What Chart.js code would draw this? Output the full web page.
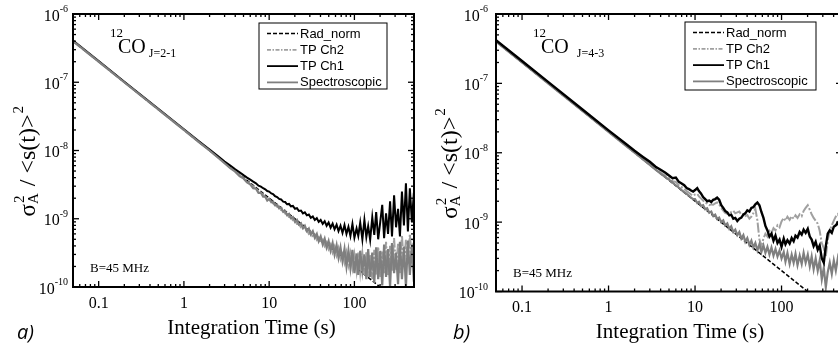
<!DOCTYPE html>
<html lang="en">
<head>
<meta charset="UTF-8">
<title>Allan variance - 12CO</title>
<script src="https://cdn.jsdelivr.net/npm/chart.js"></script>
<style>
    html, body { margin: 0; padding: 0; background: #fff; }
    body { width: 838px; height: 348px; overflow: hidden; position: relative; }
    canvas { position: absolute; top: 0; }
    #chartA { left: 0; }
    #chartB { left: 419px; }
</style>
</head>
<body>
<canvas id="chartA" width="419" height="348"></canvas>
<canvas id="chartB" width="430" height="348"></canvas>
<script>
// integration time (s), shared by the measured curves
const times = [
    0.05, 0.1, 0.2, 0.5, 1, 1.5, 2, 2.5, 3, 3.5,
    4, 4.5, 5, 5.5, 6, 6.5, 7, 7.5, 8, 8.5,
    9, 9.5,
    10, 10.6, 11.1, 11.7, 12.4, 13.1, 13.8, 14.6, 15.4, 16.2,
    17.1, 18, 19, 20.1, 21.2, 22.3, 23.6, 24.9, 26.2, 27.7,
    29.2, 30.8, 32.5, 34.3, 36.2, 38.1, 40.2, 42.5, 44.8, 47.2,
    49.8, 52.6, 55.5, 58.5, 61.8, 65.1, 68.7, 72.5, 76.5, 80.7,
    85.1, 89.8, 94.8, 100, 106, 111, 117, 124, 131, 138,
    145, 153, 162, 171, 180, 190, 201, 212, 223, 235,
    248, 262, 276, 292, 308, 325, 342, 361, 381, 402,
    424, 447, 472, 498
];

// radiometer curve (same for both lines)
const radTimes = [0.05, 0.1, 1, 10, 100, 1000];
const radNorm = [4e-7, 2e-7, 2e-8, 2e-9, 2e-10, 2e-11];

// a) 12CO J=2-1
const co21Ch1 = [
    4.1e-7, 2.05e-7, 1.02e-7, 4.1e-8, 2.05e-8, 1.37e-8, 1.03e-8, 8.3e-9, 6.9e-9, 6.0e-9,
    5.3e-9, 4.8e-9, 4.35e-9, 4.0e-9, 3.75e-9, 3.5e-9, 3.3e-9, 3.05e-9, 2.95e-9, 2.8e-9,
    2.7e-9, 2.55e-9,
    25e-10, 23.5e-10, 23e-10, 21.5e-10, 20.8e-10, 19.5e-10, 19.2e-10, 17.8e-10, 17.6e-10, 16.3e-10,
    16.5e-10, 15.2e-10, 15.4e-10, 14e-10, 14.3e-10, 13e-10, 13.2e-10, 12e-10, 12.4e-10, 11.2e-10,
    11.5e-10, 10.3e-10, 10.8e-10, 9.6e-10, 10.2e-10, 9.0e-10, 9.6e-10, 8.4e-10, 9.2e-10, 7.9e-10,
    8.8e-10, 7.4e-10, 8.5e-10, 7.0e-10, 8.2e-10, 6.6e-10, 7.9e-10, 6.2e-10, 8.1e-10, 6.0e-10,
    7.6e-10, 5.6e-10, 8.4e-10, 5.3e-10, 7.2e-10, 5.6e-10, 8.8e-10, 5.0e-10, 9.6e-10, 5.4e-10,
    7.8e-10, 4.9e-10, 10.5e-10, 5.8e-10, 12.5e-10, 5.0e-10, 9.0e-10, 16e-10, 5.2e-10, 12e-10,
    6.0e-10, 18e-10, 5.5e-10, 22e-10, 7.5e-10, 14e-10, 5.5e-10, 25e-10, 8.0e-10, 33e-10,
    6.5e-10, 28e-10, 9e-10, 24e-10
];
const co21Ch2 = [
    4.0e-7, 2.0e-7, 1.0e-7, 4.0e-8, 2.0e-8, 1.33e-8, 1.0e-8, 8.0e-9, 6.6e-9, 5.6e-9,
    4.95e-9, 4.35e-9, 3.9e-9, 3.55e-9, 3.2e-9, 3.0e-9, 2.75e-9, 2.55e-9, 2.4e-9, 2.25e-9,
    2.1e-9, 2.0e-9,
    19e-10, 18.2e-10, 16.8e-10, 16.4e-10, 15.0e-10, 14.8e-10, 13.4e-10, 13.2e-10, 11.9e-10, 11.8e-10,
    10.6e-10, 10.5e-10, 9.5e-10, 9.4e-10, 8.4e-10, 8.4e-10, 7.5e-10, 7.6e-10, 6.7e-10, 6.9e-10,
    6.0e-10, 6.3e-10, 5.4e-10, 5.8e-10, 4.9e-10, 5.3e-10, 4.4e-10, 4.9e-10, 4.0e-10, 4.5e-10,
    3.6e-10, 4.2e-10, 3.2e-10, 3.9e-10, 2.9e-10, 3.7e-10, 2.6e-10, 3.4e-10, 2.3e-10, 3.2e-10,
    2.1e-10, 3.1e-10, 1.9e-10, 3.0e-10, 1.7e-10, 3.2e-10, 1.6e-10, 3.1e-10, 1.5e-10, 3.3e-10,
    1.4e-10, 3.0e-10, 1.3e-10, 3.5e-10, 1.5e-10, 3.9e-10, 1.4e-10, 3.3e-10, 1.6e-10, 4.6e-10,
    1.5e-10, 4.0e-10, 1.7e-10, 5.2e-10, 1.8e-10, 4.4e-10, 1.6e-10, 5.8e-10, 2.0e-10, 4.9e-10,
    2.2e-10, 6.0e-10, 2.5e-10, 5.4e-10
];
const co21Spec = [
    4.0e-7, 2.0e-7, 1.0e-7, 4.0e-8, 2.0e-8, 1.33e-8, 1.0e-8, 7.9e-9, 6.5e-9, 5.5e-9,
    4.9e-9, 4.2e-9, 3.9e-9, 3.4e-9, 3.2e-9, 2.8e-9, 2.75e-9, 2.4e-9, 2.4e-9, 2.1e-9,
    2.1e-9, 1.85e-9,
    19.5e-10, 17.5e-10, 17.8e-10, 15.8e-10, 16.0e-10, 14.2e-10, 14.5e-10, 12.6e-10, 13.0e-10, 11.3e-10,
    11.8e-10, 10.2e-10, 10.6e-10, 9.0e-10, 9.6e-10, 8.2e-10, 8.6e-10, 7.3e-10, 7.9e-10, 6.6e-10,
    7.2e-10, 5.9e-10, 6.6e-10, 5.3e-10, 6.0e-10, 4.7e-10, 5.5e-10, 4.2e-10, 5.1e-10, 3.8e-10,
    4.7e-10, 3.4e-10, 4.4e-10, 3.0e-10, 4.1e-10, 2.7e-10, 3.8e-10, 2.4e-10, 3.6e-10, 2.0e-10,
    3.4e-10, 1.9e-10, 3.5e-10, 1.6e-10, 3.1e-10, 1.5e-10, 3.4e-10, 1.7e-10, 3.0e-10, 1.3e-10,
    3.6e-10, 1.4e-10, 3.2e-10, 1.15e-10, 3.8e-10, 1.3e-10, 3.4e-10, 1.05e-10, 4.2e-10, 1.4e-10,
    3.6e-10, 1.0e-10, 4.4e-10, 1.6e-10, 3.2e-10, 1.1e-10, 4.6e-10, 1.3e-10, 3.9e-10, 1.0e-10,
    4.8e-10, 1.5e-10, 4.2e-10, 1.2e-10
];

// b) 12CO J=4-3
const co43Ch1 = [
    4.2e-7, 2.1e-7, 1.05e-7, 4.2e-8, 2.1e-8, 1.42e-8, 1.07e-8, 8.7e-9, 7.4e-9, 6.3e-9,
    5.7e-9, 5.2e-9, 4.7e-9, 4.3e-9, 4.4e-9, 3.8e-9, 3.6e-9, 3.4e-9, 3.1e-9, 3.0e-9,
    2.85e-9, 2.75e-9,
    29e-10, 31e-10, 28e-10, 26e-10, 23e-10, 21.5e-10, 20e-10, 20.5e-10, 19.5e-10, 21e-10,
    21.5e-10, 22.5e-10, 21e-10, 17.5e-10, 16e-10, 14.5e-10, 13.8e-10, 12.5e-10, 12.8e-10, 11.2e-10,
    11.5e-10, 10.4e-10, 11.2e-10, 11.6e-10, 12.8e-10, 13.4e-10, 14.8e-10, 14.2e-10, 16.0e-10, 16.4e-10,
    18.0e-10, 19.2e-10, 17.5e-10, 14.0e-10, 11.5e-10, 8.8e-10, 7.6e-10, 6.2e-10, 6.8e-10, 5.4e-10,
    6.4e-10, 5.0e-10, 5.6e-10, 4.4e-10, 5.8e-10, 4.8e-10, 5.5e-10, 4.9e-10, 5.9e-10, 5.3e-10,
    6.4e-10, 6.0e-10, 7.2e-10, 6.6e-10, 7.8e-10, 7.0e-10, 8.0e-10, 6.2e-10, 5.6e-10, 4.5e-10,
    5.2e-10, 4.0e-10, 4.6e-10, 3.0e-10, 2.6e-10, 4.5e-10, 6.8e-10, 7.6e-10, 7.0e-10, 8.6e-10,
    9.0e-10, 9.8e-10, 8.5e-10, 10e-10
];
const co43Ch2 = [
    4.1e-7, 2.05e-7, 1.02e-7, 4.1e-8, 2.05e-8, 1.37e-8, 1.03e-8, 8.3e-9, 6.9e-9, 5.9e-9,
    5.2e-9, 4.7e-9, 4.3e-9, 3.9e-9, 3.8e-9, 3.4e-9, 3.2e-9, 3.0e-9, 2.8e-9, 2.65e-9,
    2.5e-9, 2.4e-9,
    25e-10, 25.5e-10, 23.5e-10, 22e-10, 20.5e-10, 19e-10, 18.5e-10, 17.6e-10, 18e-10, 17.8e-10,
    18.6e-10, 19.2e-10, 18e-10, 16e-10, 14.6e-10, 13.6e-10, 13.2e-10, 13.0e-10, 14.0e-10, 14.6e-10,
    13.4e-10, 13.8e-10, 14.2e-10, 12.8e-10, 13.0e-10, 12.2e-10, 12.6e-10, 11.2e-10, 12.0e-10, 13.4e-10,
    15.5e-10, 10.5e-10, 5.6e-10, 4.6e-10, 5.8e-10, 6.8e-10, 6.2e-10, 7.5e-10, 7.0e-10, 8.2e-10,
    7.6e-10, 9.0e-10, 8.4e-10, 10.2e-10, 11.5e-10, 10.5e-10, 12.0e-10, 10.8e-10, 12.2e-10, 11.2e-10,
    12.5e-10, 11.5e-10, 13.0e-10, 12.2e-10, 14.5e-10, 16.0e-10, 17.5e-10, 15.0e-10, 13.0e-10, 11.5e-10,
    10.5e-10, 9.5e-10, 7.5e-10, 5.0e-10, 4.2e-10, 3.2e-10, 5.5e-10, 7.5e-10, 9.0e-10, 10.5e-10,
    12.0e-10, 13.0e-10, 11.5e-10, 13.0e-10
];
const co43Spec = [
    4.0e-7, 2.0e-7, 1.0e-7, 4.0e-8, 2.0e-8, 1.33e-8, 1.0e-8, 8.0e-9, 6.7e-9, 5.7e-9,
    5.0e-9, 4.5e-9, 4.1e-9, 3.7e-9, 3.4e-9, 3.15e-9, 2.9e-9, 2.7e-9, 2.55e-9, 2.4e-9,
    2.25e-9, 2.15e-9,
    21.5e-10, 18.9e-10, 19.6e-10, 17.1e-10, 17.6e-10, 15.3e-10, 15.8e-10, 13.7e-10, 14.2e-10, 12.3e-10,
    12.8e-10, 11.1e-10, 11.6e-10, 10.0e-10, 10.6e-10, 9.0e-10, 9.6e-10, 8.0e-10, 8.7e-10, 7.2e-10,
    7.8e-10, 6.5e-10, 7.2e-10, 5.8e-10, 6.5e-10, 5.2e-10, 5.9e-10, 4.7e-10, 5.4e-10, 4.3e-10,
    5.0e-10, 3.9e-10, 4.8e-10, 3.7e-10, 4.6e-10, 3.6e-10, 4.4e-10, 3.4e-10, 4.3e-10, 3.3e-10,
    4.1e-10, 3.2e-10, 3.9e-10, 3.0e-10, 3.7e-10, 2.7e-10, 3.6e-10, 2.5e-10, 3.4e-10, 2.6e-10,
    3.5e-10, 2.4e-10, 3.3e-10, 2.5e-10, 3.6e-10, 2.6e-10, 3.4e-10, 2.3e-10, 3.2e-10, 2.1e-10,
    3.0e-10, 2.0e-10, 2.8e-10, 1.5e-10, 2.2e-10, 1.15e-10, 1.9e-10, 2.6e-10, 1.8e-10, 2.8e-10,
    2.0e-10, 3.0e-10, 2.2e-10, 3.2e-10
];

const seriesNames = ['Rad_norm', 'TP Ch2', 'TP Ch1', 'Spectroscopic'];
const xTickValues = [0.1, 1, 10, 100];
const xTickLabels = ['0.1', '1', '10', '100'];
const yTickValues = [1e-6, 1e-7, 1e-8, 1e-9, 1e-10];
const yTickExps = ['-6', '-7', '-8', '-9', '-10'];

const SERIF = '"Liberation Serif", "Times New Roman", serif';
const SANS = '"Liberation Sans", Arial, sans-serif';

function pts(xs, ys) {
    return xs.map((x, i) => ({ x: x, y: ys[i] }));
}

function line(ctx, x1, y1, x2, y2) {
    ctx.beginPath();
    ctx.moveTo(x1, y1);
    ctx.lineTo(x2, y2);
    ctx.stroke();
}

// frame, inward ticks, labels, legend and annotations
const panelPlugin = {
    id: 'panel',
    afterDraw(chart, args, o) {
        const ctx = chart.ctx;
        const { left, right, top, bottom } = chart.chartArea;
        const xs = chart.scales.x, ys = chart.scales.y;
        ctx.save();
        ctx.strokeStyle = '#000';
        ctx.fillStyle = '#000';
        ctx.setLineDash([]);

        ctx.lineWidth = 1.3;
        for (let e = -2; e <= 3; e++) {
            for (let k = 1; k <= 9; k++) {
                const v = k * Math.pow(10, e);
                if (v < xs.min * 0.999 || v > xs.max * 1.001) continue;
                const px = xs.getPixelForValue(v), len = k === 1 ? 6 : 3;
                line(ctx, px, bottom, px, bottom - len);
                line(ctx, px, top, px, top + len);
            }
        }
        for (let e = -10; e <= -6; e++) {
            for (let k = 1; k <= 9; k++) {
                const v = k * Math.pow(10, e);
                if (v < ys.min * 0.999 || v > ys.max * 1.001) continue;
                const py = ys.getPixelForValue(v), len = k === 1 ? 6 : 3;
                line(ctx, left, py, left + len, py);
                line(ctx, right, py, right - len, py);
            }
        }
        ctx.lineWidth = 2;
        ctx.strokeRect(left, top, right - left, bottom - top);

        // tick labels
        ctx.textBaseline = 'alphabetic';
        ctx.textAlign = 'center';
        ctx.font = '16px ' + SERIF;
        xTickValues.forEach((v, i) => {
            ctx.fillText(xTickLabels[i], xs.getPixelForValue(v), bottom + 20.5);
        });
        ctx.textAlign = 'left';
        yTickValues.forEach((v, i) => {
            const py = ys.getPixelForValue(v);
            ctx.font = '10px ' + SERIF;
            const ws = ctx.measureText(yTickExps[i]).width;
            ctx.font = '16px ' + SERIF;
            const wb = ctx.measureText('10').width;
            const x0 = left - o.yLabGap - ws - wb;
            ctx.fillText('10', x0, py + 6.5);
            ctx.font = '10px ' + SERIF;
            ctx.fillText(yTickExps[i], x0 + wb, py - 2);
        });

        // axis titles
        ctx.textAlign = 'center';
        ctx.font = '21px ' + SERIF;
        ctx.fillText('Integration Time (s)', (left + right) / 2 + o.xTitleShift, bottom + 46.5);

        ctx.save();
        ctx.translate(left - o.yTitleGap, (top + bottom) / 2 + 66);
        ctx.rotate(-Math.PI / 2);
        ctx.textAlign = 'left';
        let x = 0;
        ctx.font = '23px ' + SERIF;
        ctx.fillText('σ', x, 0);
        x += ctx.measureText('σ').width;
        ctx.font = '15px ' + SERIF;
        ctx.fillText('2', x + 1, -11);
        ctx.fillText('A', x, 3);
        x += ctx.measureText('A').width + 1;
        ctx.font = '24px ' + SERIF;
        ctx.fillText(' / <s(t)>', x, 0);
        x += ctx.measureText(' / <s(t)>').width;
        ctx.font = '15px ' + SERIF;
        ctx.fillText('2', x + 1, -12);
        ctx.restore();

        // line label 12CO J=..
        ctx.textAlign = 'left';
        ctx.font = '13px ' + SERIF;
        ctx.fillText('12', left + 37, top + 23);
        ctx.font = '20px ' + SERIF;
        ctx.fillText('CO', left + 45, top + 39);
        const wco = ctx.measureText('CO').width;
        ctx.font = '12px ' + SERIF;
        ctx.fillText(o.transition, left + 45 + wco + o.subGap, top + 43);

        ctx.font = '13px ' + SERIF;
        ctx.fillText('B=45 MHz', left + 17, bottom - 15);

        // legend
        const [bx0, by0, bw, bh] = o.legendBox;
        const bx = left + bx0, by = top + by0;
        ctx.fillStyle = '#fff';
        ctx.fillRect(bx, by, bw, bh);
        ctx.lineWidth = 1;
        ctx.strokeStyle = '#000';
        ctx.strokeRect(bx, by, bw, bh);
        ctx.font = '13px ' + SANS;
        ctx.textBaseline = 'middle';
        chart.data.datasets.forEach((ds, i) => {
            const ry = by + 10.5 + i * 16.3;
            ctx.strokeStyle = ds.borderColor;
            ctx.lineWidth = Math.min(ds.borderWidth, 1.8);
            ctx.setLineDash(i === 1 ? [4, 1.5, 1.5, 1.5] : (ds.borderDash || []));
            line(ctx, bx + 8, ry, bx + 39, ry);
            ctx.setLineDash([]);
            ctx.fillStyle = '#000';
            ctx.fillText(ds.label, bx + 41, ry + 0.5);
        });

        // panel letter
        ctx.textBaseline = 'alphabetic';
        ctx.font = 'italic 20px "Open Sans", sans-serif';
        ctx.fillText(o.label, o.labelX, 339);
        ctx.restore();
    }
};

function makeChart(id, ch2, ch1, spec, order, opts) {
    return new Chart(document.getElementById(id), {
        type: 'line',
        data: {
            datasets: [
                { label: seriesNames[0], data: pts(radTimes, radNorm), borderColor: '#000',
                  borderWidth: 1.5, borderDash: [4, 2], order: order[0] },
                { label: seriesNames[1], data: pts(times, ch2), borderColor: '#a0a0a0',
                  borderWidth: 2, borderDash: [10, 2, 2, 2], order: order[1] },
                { label: seriesNames[2], data: pts(times, ch1), borderColor: '#000',
                  borderWidth: opts.ch1Width, order: order[2] },
                { label: seriesNames[3], data: pts(times, spec), borderColor: '#7f7f7f',
                  borderWidth: 2.2, order: order[3] }
            ]
        },
        options: {
            responsive: false,
            animation: false,
            layout: { padding: { left: 0, top: 14, right: opts.padRight, bottom: 0 } },
            elements: { point: { radius: 0 }, line: { tension: 0 } },
            plugins: {
                legend: { display: false },
                tooltip: { enabled: false },
                panel: opts
            },
            scales: {
                x: {
                    type: 'logarithmic', min: 0.05, max: 500,
                    ticks: { display: false }, grid: { display: false }, border: { display: false },
                    afterFit: s => { s.height = opts.xHeight; }
                },
                y: {
                    type: 'logarithmic', min: 1e-10, max: 1e-6,
                    ticks: { display: false }, grid: { display: false }, border: { display: false },
                    afterFit: s => { s.width = opts.yWidth; }
                }
            }
        },
        plugins: [panelPlugin]
    });
}

makeChart('chartA', co21Ch2, co21Ch1, co21Spec, [3, 2, 1, 0], {
    label: 'a)', labelX: 17, transition: 'J=2-1', subGap: 3, ch1Width: 2,
    legendBox: [186, 9, 128, 66], yLabGap: 5, yTitleGap: 38.5, xTitleShift: 8,
    padRight: 5, xHeight: 61, yWidth: 73
});
makeChart('chartB', co43Ch2, co43Ch1, co43Spec, [3, 2, 0, 1], {
    label: 'b)', labelX: 34, transition: 'J=4-3', subGap: 8, ch1Width: 2.4,
    legendBox: [189, 8, 131, 68], yLabGap: 8, yTitleGap: 39, xTitleShift: 11,
    padRight: 7, xHeight: 56.5, yWidth: 77
});
</script>
</body>
</html>
